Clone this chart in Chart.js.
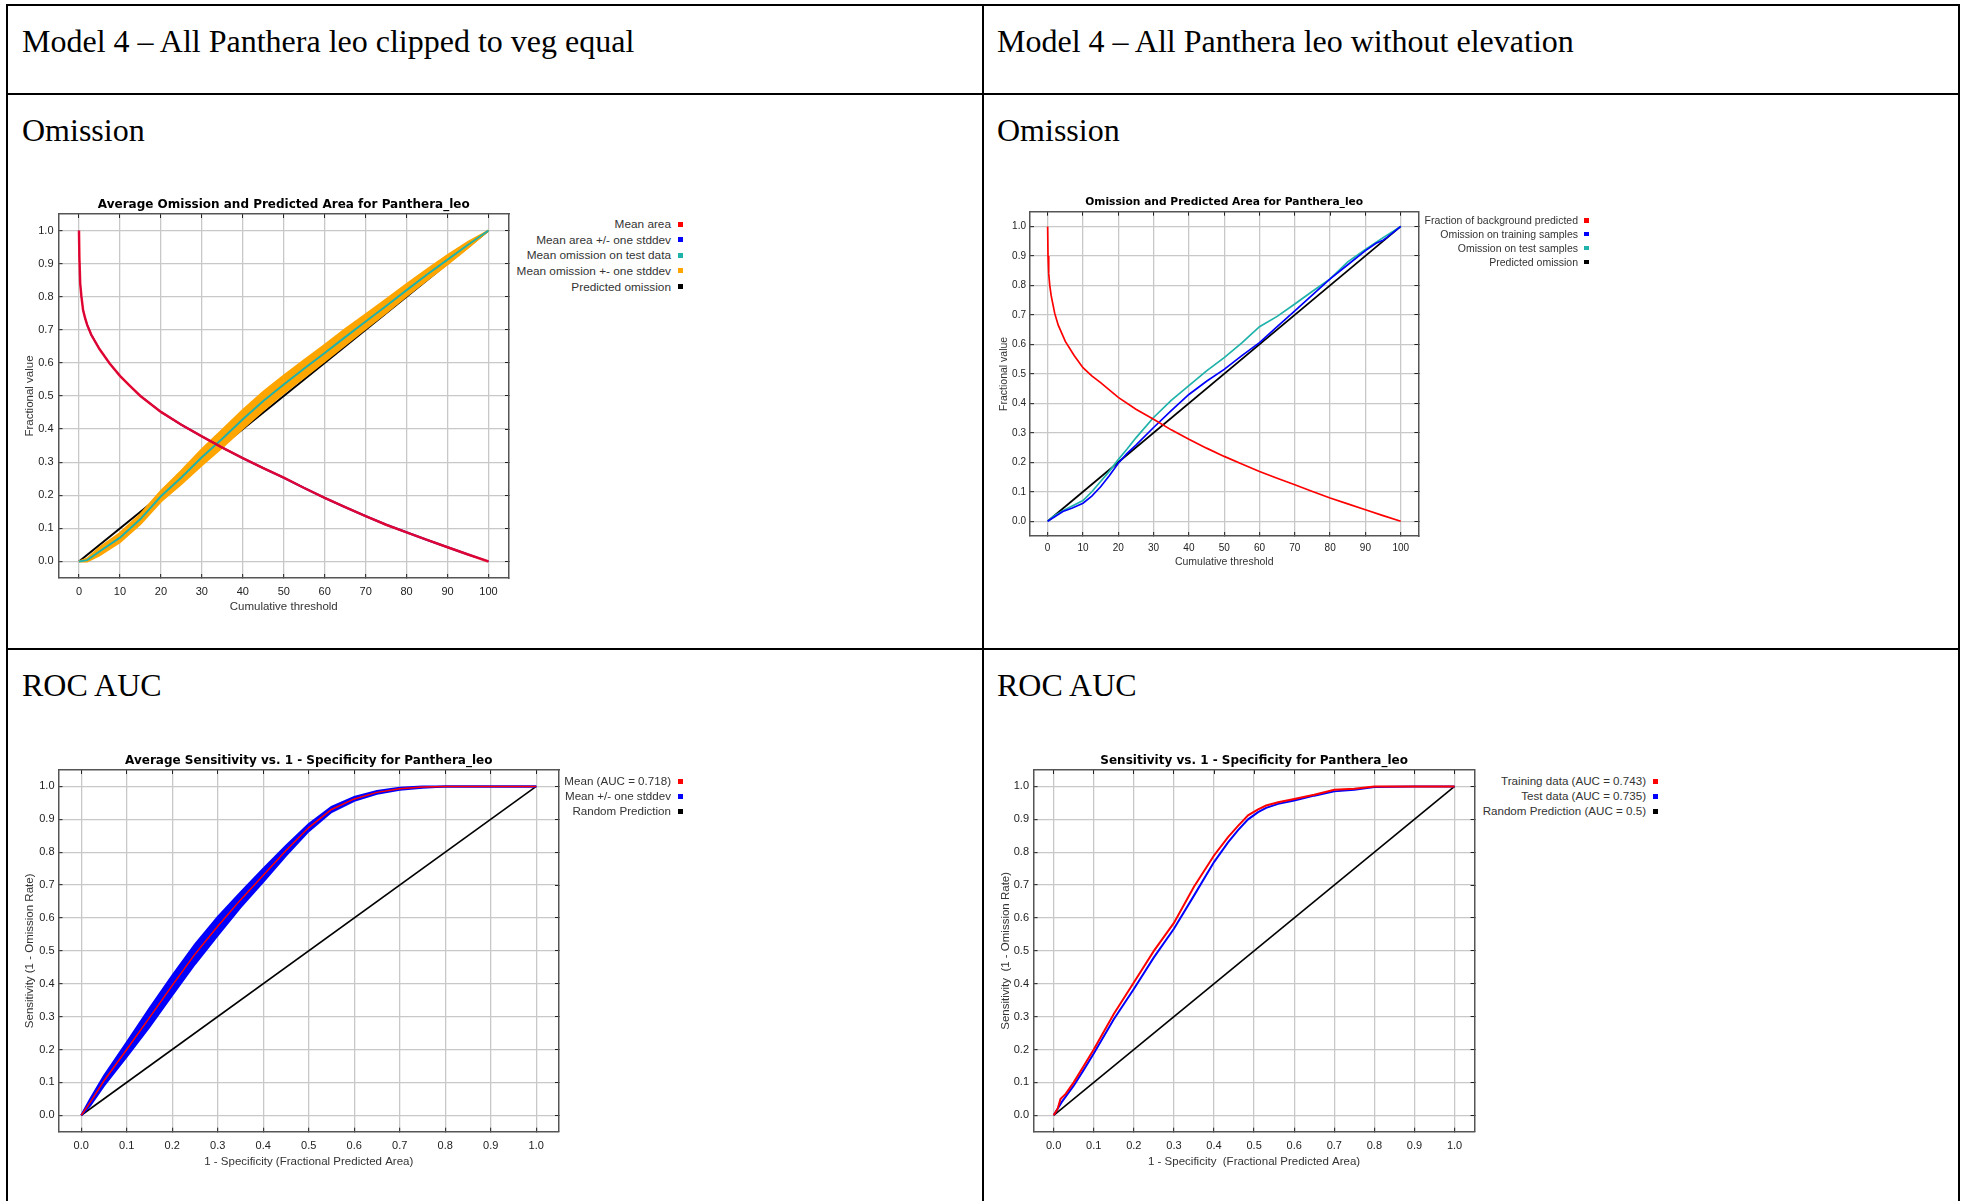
<!DOCTYPE html>
<html>
<head>
<meta charset="utf-8">
<script src="https://cdn.jsdelivr.net/npm/chart.js@4.4.1/dist/chart.umd.min.js"></script>
<style>
    html, body { margin: 0; padding: 0; background: #fff; width: 1963px; height: 1201px; overflow: hidden; }
    body { position: relative; }
    .rule { position: absolute; background: #000; }
    .cell { position: absolute; font-family: "Liberation Serif", "Times New Roman", serif; font-size: 32px; line-height: 32px; white-space: nowrap; color: #000; }
    canvas { position: absolute; }
    .legend { position: absolute; font-family: "Liberation Sans", Arial, sans-serif; color: #333; text-align: right; white-space: nowrap; }
    .legend .sq { display: inline-block; vertical-align: middle; position: relative; top: -1px; }
</style>
</head>
<body>
<script>
// ---- data ----

// tick values shared by the four charts
var thresholdTicks = [0, 10, 20, 30, 40, 50, 60, 70, 80, 90, 100];
var fractionTicks = [0, 0.1, 0.2, 0.3, 0.4, 0.5, 0.6, 0.7, 0.8, 0.9, 1.0];

// chart 1 - average omission and predicted area (clipped to veg equal)
var c1Thresh = [0, 0.1, 0.3, 0.6, 1, 1.5, 2, 3, 5, 7.5, 10, 12.5, 15, 20, 25, 30, 35, 40, 45, 50, 55, 60, 65, 70, 75, 80, 85, 90, 95, 100];
var c1MeanArea = [1.0, 0.92, 0.84, 0.8, 0.76, 0.735, 0.715, 0.685, 0.642, 0.598, 0.561, 0.53, 0.5, 0.452, 0.413, 0.378, 0.344, 0.312, 0.282, 0.253, 0.222, 0.192, 0.164, 0.137, 0.111, 0.088, 0.065, 0.043, 0.021, 0];
var c1MeanAreaHi = [1.0, 0.925, 0.845, 0.804, 0.763, 0.738, 0.718, 0.688, 0.644, 0.6, 0.563, 0.532, 0.502, 0.454, 0.415, 0.38, 0.346, 0.314, 0.284, 0.255, 0.224, 0.194, 0.166, 0.139, 0.113, 0.09, 0.067, 0.045, 0.023, 0.001];
var c1MeanAreaLo = [0.995, 0.915, 0.835, 0.796, 0.757, 0.732, 0.712, 0.682, 0.64, 0.596, 0.559, 0.528, 0.498, 0.45, 0.411, 0.376, 0.342, 0.31, 0.28, 0.251, 0.22, 0.19, 0.162, 0.135, 0.109, 0.086, 0.063, 0.041, 0.019, 0];
var c1OmThresh = [0, 2, 5, 10, 15, 20, 25, 30, 35, 40, 45, 50, 55, 60, 65, 70, 75, 80, 85, 90, 95, 100];
var c1OmTest = [0, 0.004, 0.03, 0.072, 0.128, 0.197, 0.254, 0.315, 0.371, 0.43, 0.485, 0.535, 0.583, 0.63, 0.678, 0.725, 0.772, 0.82, 0.867, 0.912, 0.957, 1.0];
var c1OmHi = [0, 0.009, 0.042, 0.086, 0.143, 0.213, 0.274, 0.339, 0.398, 0.458, 0.513, 0.562, 0.609, 0.655, 0.702, 0.747, 0.792, 0.838, 0.883, 0.926, 0.966, 1.0];
var c1OmLo = [0, 0, 0.018, 0.058, 0.113, 0.181, 0.234, 0.291, 0.344, 0.402, 0.457, 0.508, 0.557, 0.605, 0.654, 0.703, 0.752, 0.802, 0.851, 0.898, 0.948, 1.0];
var c1Legend = ['Mean area', 'Mean area +/- one stddev', 'Mean omission on test data', 'Mean omission +- one stddev', 'Predicted omission'];

// chart 2 - omission and predicted area (without elevation)
var c2Thresh = [0, 0.1, 0.3, 0.6, 1, 2, 3, 5, 7.5, 10, 12.5, 15, 20, 25, 30, 35, 40, 45, 50, 55, 60, 65, 70, 75, 80, 85, 90, 95, 100];
var c2Background = [1.0, 0.9, 0.84, 0.8, 0.765, 0.705, 0.665, 0.61, 0.562, 0.521, 0.493, 0.47, 0.42, 0.38, 0.346, 0.31, 0.278, 0.248, 0.22, 0.194, 0.169, 0.146, 0.124, 0.101, 0.079, 0.059, 0.039, 0.019, 0];
var c2TrainX = [0, 2, 4.3, 7, 10, 12.5, 15, 17.5, 20, 22.5, 25, 30, 35, 40, 45, 50, 55, 60, 65, 70, 75, 80, 85, 90, 93, 95, 96, 100];
var c2Train = [0, 0.015, 0.033, 0.045, 0.061, 0.085, 0.117, 0.155, 0.197, 0.23, 0.258, 0.318, 0.375, 0.43, 0.475, 0.515, 0.562, 0.606, 0.66, 0.714, 0.768, 0.822, 0.87, 0.918, 0.943, 0.953, 0.962, 1.0];
var c2TestX = [0, 2, 5, 10, 12.5, 15, 17.5, 20, 22.5, 25, 30, 35, 40, 45, 50, 55, 60, 65, 70, 75, 80, 85, 90, 95, 100];
var c2Test = [0, 0.02, 0.04, 0.07, 0.1, 0.135, 0.17, 0.209, 0.245, 0.283, 0.352, 0.41, 0.46, 0.51, 0.555, 0.605, 0.66, 0.695, 0.737, 0.78, 0.822, 0.88, 0.922, 0.962, 1.0];
var c2Legend = ['Fraction of background predicted', 'Omission on training samples', 'Omission on test samples', 'Predicted omission'];

// chart 3 - average ROC (clipped to veg equal)
var c3Fpa = [0, 0.02, 0.05, 0.1, 0.15, 0.2, 0.25, 0.3, 0.35, 0.4, 0.45, 0.5, 0.55, 0.6, 0.65, 0.7, 0.75, 0.8, 0.9, 1.0];
var c3Mean = [0, 0.04, 0.105, 0.2, 0.297, 0.395, 0.49, 0.575, 0.655, 0.73, 0.805, 0.875, 0.93, 0.962, 0.982, 0.993, 0.998, 1.0, 1.0, 1.0];
var c3Hi = [0, 0.05, 0.12, 0.222, 0.325, 0.425, 0.52, 0.603, 0.678, 0.75, 0.82, 0.886, 0.938, 0.968, 0.986, 0.996, 1.0, 1.0, 1.0, 1.0];
var c3Lo = [0, 0.03, 0.09, 0.178, 0.269, 0.365, 0.46, 0.547, 0.632, 0.71, 0.79, 0.864, 0.922, 0.956, 0.978, 0.99, 0.996, 1.0, 1.0, 1.0];
var c3Legend = ['Mean (AUC = 0.718)', 'Mean +/- one stddev', 'Random Prediction'];

// chart 4 - ROC (without elevation)
var c4TrainX = [0, 0.01, 0.017, 0.03, 0.05, 0.075, 0.1, 0.15, 0.2, 0.25, 0.3, 0.35, 0.4, 0.435, 0.46, 0.485, 0.51, 0.53, 0.56, 0.6, 0.65, 0.7, 0.75, 0.8, 0.9, 1.0];
var c4Train = [0, 0.02, 0.049, 0.065, 0.1, 0.15, 0.2, 0.308, 0.404, 0.5, 0.585, 0.695, 0.79, 0.846, 0.88, 0.912, 0.93, 0.942, 0.952, 0.962, 0.975, 0.99, 0.993, 1.0, 1.0, 1.0];
var c4TestX = [0, 0.01, 0.02, 0.05, 0.075, 0.1, 0.15, 0.2, 0.25, 0.3, 0.35, 0.4, 0.435, 0.46, 0.485, 0.51, 0.53, 0.56, 0.6, 0.65, 0.7, 0.75, 0.8, 0.9, 1.0];
var c4Test = [0, 0.02, 0.04, 0.09, 0.138, 0.188, 0.292, 0.384, 0.48, 0.567, 0.668, 0.77, 0.83, 0.867, 0.9, 0.922, 0.935, 0.947, 0.957, 0.972, 0.985, 0.99, 0.998, 1.0, 1.0];
var c4Legend = ['Training data (AUC = 0.743)', 'Test data (AUC = 0.735)', 'Random Prediction (AUC = 0.5)'];

// diagonal reference line, used by every chart
var diagUnit = [0, 1];
var diagThresh = [0, 100];

// ---- page ----
var PAGE_W = 1963;
var SANS = '"Liberation Sans", Arial, sans-serif';
var RED = '#ff0000', BLUE = '#0000ff', TEAL = '#1fb2aa', ORANGE = '#ffa500', BLACK = '#000000';

function rule(x, y, w, h) {
    var d = document.createElement('div');
    d.className = 'rule';
    d.style.left = x + 'px'; d.style.top = y + 'px';
    d.style.width = w + 'px'; d.style.height = h + 'px';
    document.body.appendChild(d);
}

function cell(text, x, y) {
    var d = document.createElement('div');
    d.className = 'cell';
    d.style.left = x + 'px'; d.style.top = y + 'px';
    d.textContent = text;
    document.body.appendChild(d);
}

// table grid
rule(6, 4, 1954, 2);
rule(6, 93, 1954, 2);
rule(6, 648, 1954, 2);
rule(6, 4, 2, 1197);
rule(982, 4, 2, 1197);
rule(1958, 4, 2, 1197);

cell('Model 4 \u2013 All Panthera leo clipped to veg equal', 22, 25);
cell('Model 4 \u2013 All Panthera leo without elevation', 997, 25);
cell('Omission', 22, 114);
cell('Omission', 997, 114);
cell('ROC AUC', 22, 669);
cell('ROC AUC', 997, 669);

function pts(xs, ys) {
    return xs.map(function (x, i) { return {x: x, y: ys[i]}; });
}

function series(label, xs, ys, color, width, extra) {
    var ds = {
        label: label,
        data: pts(xs, ys),
        borderColor: color,
        backgroundColor: color,
        borderWidth: width,
        pointRadius: 0,
        tension: 0,
        fill: false
    };
    for (var k in extra) ds[k] = extra[k];
    return ds;
}

function addLegend(labels, colors, g) {
    var box = document.createElement('div');
    box.className = 'legend';
    box.style.right = (PAGE_W - g.right) + 'px';
    box.style.top = (g.top - g.step / 2) + 'px';
    box.style.fontSize = g.size + 'px';
    labels.forEach(function (label, i) {
        var row = document.createElement('div');
        row.style.height = g.step + 'px';
        row.style.lineHeight = g.step + 'px';
        row.appendChild(document.createTextNode(label));
        var sq = document.createElement('span');
        sq.className = 'sq';
        sq.style.width = g.sq + 'px';
        sq.style.height = g.sq + 'px';
        sq.style.marginLeft = g.gap + 'px';
        sq.style.background = colors[i];
        row.appendChild(sq);
        box.appendChild(row);
    });
    document.body.appendChild(box);
}

// one framed plot; g holds the page geometry of the frame and the texts around it
function buildChart(g, datasets) {
    var TL = -4;  // tick marks point into the plot
    var lhT = g.titleSize * 1.2, lhA = g.axisSize * 1.2, lhK = g.tickSize * 1.2;
    var tpT = 4;
    var tpB = g.frame.t - g.titleY - lhT / 2;
    var topF = g.frame.t - tpT - lhT - tpB;
    var top = Math.floor(topF);
    var left = g.canvasX;
    var w = Math.ceil(g.frame.r + 6 - left);
    var h = Math.ceil(g.xTitleY + lhA / 2 + 3 - top);

    var canvas = document.createElement('canvas');
    canvas.width = w; canvas.height = h;
    canvas.style.left = left + 'px'; canvas.style.top = top + 'px';
    canvas.style.width = w + 'px'; canvas.style.height = h + 'px';
    document.body.appendChild(canvas);

    var xAxisH = top + h - g.frame.b;
    var yAxisW = g.frame.l - left;
    var tickFont = {family: SANS, size: g.tickSize, lineHeight: 1.2};
    var axisFont = {family: SANS, size: g.axisSize, lineHeight: 1.2};
    var grid = {color: '#c8c8c8', lineWidth: 1.3, tickLength: TL, tickColor: '#222', tickWidth: 1};
    var border = {display: true, color: '#555', width: 1.5};
    var frameGrid = {display: true, drawOnChartArea: false, drawTicks: true, tickLength: TL, tickColor: '#222', tickWidth: 1};
    var setX = function (s) { s.ticks = g.xTicks.map(function (v) { return {value: v}; }); };
    var setY = function (s) { s.ticks = g.yTicks.map(function (v) { return {value: v}; }); };

    return new Chart(canvas, {
        type: 'line',
        data: {datasets: datasets},
        options: {
            responsive: false,
            animation: false,
            devicePixelRatio: 1,
            layout: {padding: {top: topF - top, right: left + w - g.frame.r, bottom: 0, left: 0}},
            plugins: {
                legend: {display: false},
                tooltip: {enabled: false},
                title: {
                    display: true,
                    text: g.title,
                    fullSize: false,
                    color: '#000',
                    font: {family: '"DejaVu Sans", sans-serif', size: g.titleSize, weight: 'bold', lineHeight: 1.2},
                    padding: {top: tpT, bottom: tpB}
                }
            },
            scales: {
                x: {
                    type: 'linear', position: 'bottom', min: g.xRange[0], max: g.xRange[1],
                    afterBuildTicks: setX,
                    afterFit: function (s) { s.height = xAxisH; },
                    grid: grid, border: border,
                    ticks: {
                        padding: g.xLabelOff - TL - lhK / 2, color: '#222', font: tickFont,
                        autoSkip: false, maxRotation: 0,
                        callback: function (v) { return g.xFmt(v); }
                    },
                    title: {display: true, text: g.xTitle, color: '#333', font: axisFont,
                            padding: {top: 0, bottom: top + h - g.xTitleY - lhA / 2}}
                },
                y: {
                    type: 'linear', position: 'left', min: g.yRange[0], max: g.yRange[1],
                    afterBuildTicks: setY,
                    afterFit: function (s) { s.width = yAxisW; },
                    grid: grid, border: border,
                    ticks: {
                        padding: g.yLabelGap - TL, color: '#222', font: tickFont, autoSkip: false,
                        callback: function (v) { return v.toFixed(1); }
                    },
                    title: {display: true, text: g.yTitle, color: '#333', font: axisFont,
                            padding: {top: g.yTitleX - left - lhA / 2, bottom: 0}}
                },
                x2: {
                    type: 'linear', axis: 'x', position: 'top', min: g.xRange[0], max: g.xRange[1],
                    afterBuildTicks: setX,
                    afterFit: function (s) { s.height = 0; },
                    grid: frameGrid, border: border,
                    ticks: {display: false, padding: 0}
                },
                y2: {
                    type: 'linear', axis: 'y', position: 'right', min: g.yRange[0], max: g.yRange[1],
                    afterBuildTicks: setY,
                    afterFit: function (s) { s.width = 0; },
                    grid: frameGrid, border: border,
                    ticks: {display: false, padding: 0}
                }
            }
        }
    });
}

var intFmt = function (v) { return String(Math.round(v)); };
var oneDec = function (v) { return v.toFixed(1); };

// chart 1
buildChart({
    canvasX: 10, frame: {l: 58.5, t: 214, r: 509, b: 578},
    title: 'Average Omission and Predicted Area for Panthera_leo', titleY: 205, titleSize: 12,
    xTitle: 'Cumulative threshold', xTitleY: 607, yTitle: 'Fractional value', yTitleX: 30,
    axisSize: 11.5, tickSize: 11, xLabelOff: 13.5, yLabelGap: 5,
    xRange: [-5, 105], yRange: [-0.05, 1.05], xTicks: thresholdTicks, yTicks: fractionTicks, xFmt: intFmt
}, [
    series(c1Legend[0], c1Thresh, c1MeanArea, 'rgba(240,0,30,0.9)', 2.5),
    series(c1Legend[1], c1Thresh, c1MeanAreaHi, BLUE, 1),
    series(c1Legend[1], c1Thresh, c1MeanAreaLo, BLUE, 1),
    series(c1Legend[2], c1OmThresh, c1OmTest, TEAL, 2),
    series(c1Legend[3], c1OmThresh, c1OmHi, ORANGE, 2, {fill: '+1', backgroundColor: ORANGE}),
    series(c1Legend[3], c1OmThresh, c1OmLo, ORANGE, 2),
    series(c1Legend[4], diagThresh, diagUnit, BLACK, 2)
]);
addLegend(c1Legend, [RED, BLUE, TEAL, ORANGE, BLACK], {right: 682.5, top: 225, step: 15.6, size: 11.8, sq: 5, gap: 6.5});

// chart 2
buildChart({
    canvasX: 990, frame: {l: 1030, t: 211.7, r: 1418.4, b: 536},
    title: 'Omission and Predicted Area for Panthera_leo', titleY: 202.7, titleSize: 10.7,
    xTitle: 'Cumulative threshold', xTitleY: 561.7, yTitle: 'Fractional value', yTitleX: 1004.5,
    axisSize: 10.5, tickSize: 10, xLabelOff: 12.3, yLabelGap: 4,
    xRange: [-5, 105], yRange: [-0.05, 1.05], xTicks: thresholdTicks, yTicks: fractionTicks, xFmt: intFmt
}, [
    series(c2Legend[0], c2Thresh, c2Background, RED, 1.7),
    series(c2Legend[1], c2TrainX, c2Train, BLUE, 1.7),
    series(c2Legend[2], c2TestX, c2Test, TEAL, 1.7),
    series(c2Legend[3], diagThresh, diagUnit, BLACK, 1.7)
]);
addLegend(c2Legend, [RED, BLUE, TEAL, BLACK], {right: 1588.5, top: 221, step: 13.9, size: 10.5, sq: 4.5, gap: 6});

// chart 3
buildChart({
    canvasX: 10, frame: {l: 58.5, t: 770, r: 559, b: 1131.7},
    title: 'Average Sensitivity vs. 1 - Specificity for Panthera_leo', titleY: 760.7, titleSize: 12,
    xTitle: '1 - Specificity (Fractional Predicted Area)', xTitleY: 1161.7,
    yTitle: 'Sensitivity (1 - Omission Rate)', yTitleX: 30,
    axisSize: 11.5, tickSize: 11, xLabelOff: 14.3, yLabelGap: 4,
    xRange: [-0.05, 1.05], yRange: [-0.05, 1.05], xTicks: fractionTicks, yTicks: fractionTicks, xFmt: oneDec
}, [
    series(c3Legend[0], c3Fpa, c3Mean, RED, 1.5),
    series(c3Legend[1], c3Fpa, c3Hi, BLUE, 2, {fill: '+1', backgroundColor: BLUE}),
    series(c3Legend[1], c3Fpa, c3Lo, BLUE, 2),
    series(c3Legend[2], diagUnit, diagUnit, BLACK, 1.6)
]);
addLegend(c3Legend, [RED, BLUE, BLACK], {right: 682.5, top: 780.7, step: 15.2, size: 11.6, sq: 5, gap: 6.5});

// chart 4
buildChart({
    canvasX: 990, frame: {l: 1033.6, t: 770, r: 1474.6, b: 1131.7},
    title: 'Sensitivity vs. 1 - Specificity for Panthera_leo', titleY: 760.7, titleSize: 12,
    xTitle: '1 - Specificity  (Fractional Predicted Area)', xTitleY: 1161.7,
    yTitle: 'Sensitivity  (1 - Omission Rate)', yTitleX: 1005.4,
    axisSize: 11.5, tickSize: 11, xLabelOff: 14.3, yLabelGap: 4.6,
    xRange: [-0.05, 1.05], yRange: [-0.05, 1.05], xTicks: fractionTicks, yTicks: fractionTicks, xFmt: oneDec
}, [
    series(c4Legend[0], c4TrainX, c4Train, RED, 2),
    series(c4Legend[1], c4TestX, c4Test, BLUE, 2),
    series(c4Legend[2], diagUnit, diagUnit, BLACK, 1.6)
]);
addLegend(c4Legend, [RED, BLUE, BLACK], {right: 1657.5, top: 780.7, step: 15.2, size: 11.6, sq: 5, gap: 6.5});
</script>
</body>
</html>
